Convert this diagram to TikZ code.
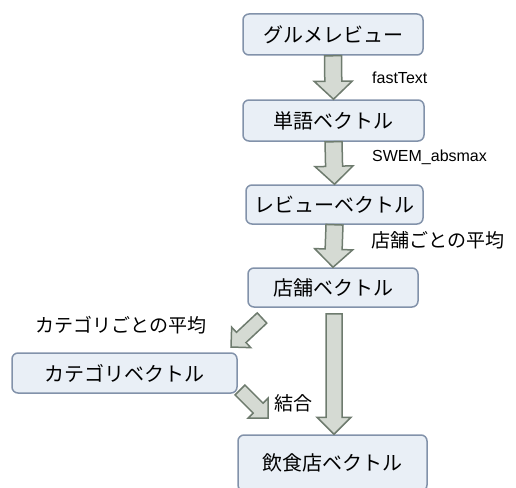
\documentclass[tikz,border=0pt]{standalone}
\usepackage{fontspec}
\setmainfont{Noto Sans CJK JP}
\newfontfamily\latinsans{Liberation Sans}
\usetikzlibrary{calc}

\definecolor{boxfill}{HTML}{E9EFF6}
\definecolor{boxline}{HTML}{8292AA}
\definecolor{arrfill}{HTML}{D5DAD3}
\definecolor{arrline}{HTML}{6E7B6E}

\tikzset{
  stage/.style={draw=boxline, fill=boxfill, line width=1.5pt, rounded corners=6pt,
    inner sep=0pt, font=\fontsize{20}{22}\selectfont},
  fatarrow/.style={draw=arrline, fill=arrfill, line width=1.5pt, line join=miter},
  note/.style={inner sep=0pt, anchor=west, font=\fontsize{19}{21}\selectfont},
  latinnote/.style={inner sep=0pt, anchor=west, font=\latinsans\fontsize{16}{18}\selectfont},
}

% block arrow from tail #1 to tip #2: shaft half width #3, head half width #4, head length #5
\newcommand{\fatarrow}[5]{%
  \coordinate (fa-neck) at ($(#2)!#5!(#1)$);
  \draw[fatarrow]
    ($(#1)!#3!90:(#2)$) -- ($(fa-neck)!#3!90:(#2)$) -- ($(fa-neck)!#4!90:(#2)$)
    -- (#2)
    -- ($(fa-neck)!#4!-90:(#2)$) -- ($(fa-neck)!#3!-90:(#2)$) -- ($(#1)!#3!-90:(#2)$)
    -- cycle;
}

\begin{document}
\begin{tikzpicture}[x=1pt, y=-1pt]
\useasboundingbox (0,0) rectangle (516,487);

% processing stages
\node[stage, minimum width=180pt, minimum height=41pt] (b1) at (333,34.5) {グルメレビュー};
\node[stage, minimum width=181pt, minimum height=41pt] (b2) at (333.5,120.5) {単語ベクトル};
\node[stage, minimum width=177pt, minimum height=39pt] (b3) at (334.5,204.5) {レビューベクトル};
\node[stage, minimum width=170pt, minimum height=39pt] (b4) at (333,287.5) {店舗ベクトル};
\node[stage, minimum width=225pt, minimum height=40pt] (b5) at (124.5,373) {カテゴリベクトル};
\node[stage, minimum width=189pt, minimum height=56pt] (b6) at (332.5,463) {飲食店ベクトル};

% ends of the block arrows
\coordinate (a4s) at ($(b4.south)+(1,6)$);
\coordinate (a4t) at (a4s |- b6.north);
\coordinate (d1s) at (262,318);
\coordinate (d1t) at (231,347);
\coordinate (d2s) at (240,390);
\coordinate (d2t) at (268,418);

\fatarrow{b1.south}{b2.north}{8.5pt}{19pt}{18pt}
\fatarrow{b2.south}{b3.north}{8.5pt}{19pt}{18pt}
\fatarrow{b3.south}{b4.north}{8.5pt}{19pt}{18pt}
\fatarrow{a4s}{a4t}{8pt}{17pt}{17pt}
\fatarrow{d1s}{d1t}{7pt}{14pt}{14pt}
\fatarrow{d2s}{d2t}{7pt}{14pt}{14pt}

% step labels
\node[latinnote] (l1) at (372,78) {fastText};
\node[latinnote] (l2) at (372,157) {SWEM\_absmax};
\node[note] (l3) at (371,240) {店舗ごとの平均};
\node[note] (l4) at (35,325) {カテゴリごとの平均};
\node[note] (l5) at (274,403) {結合};
\end{tikzpicture}
\end{document}
